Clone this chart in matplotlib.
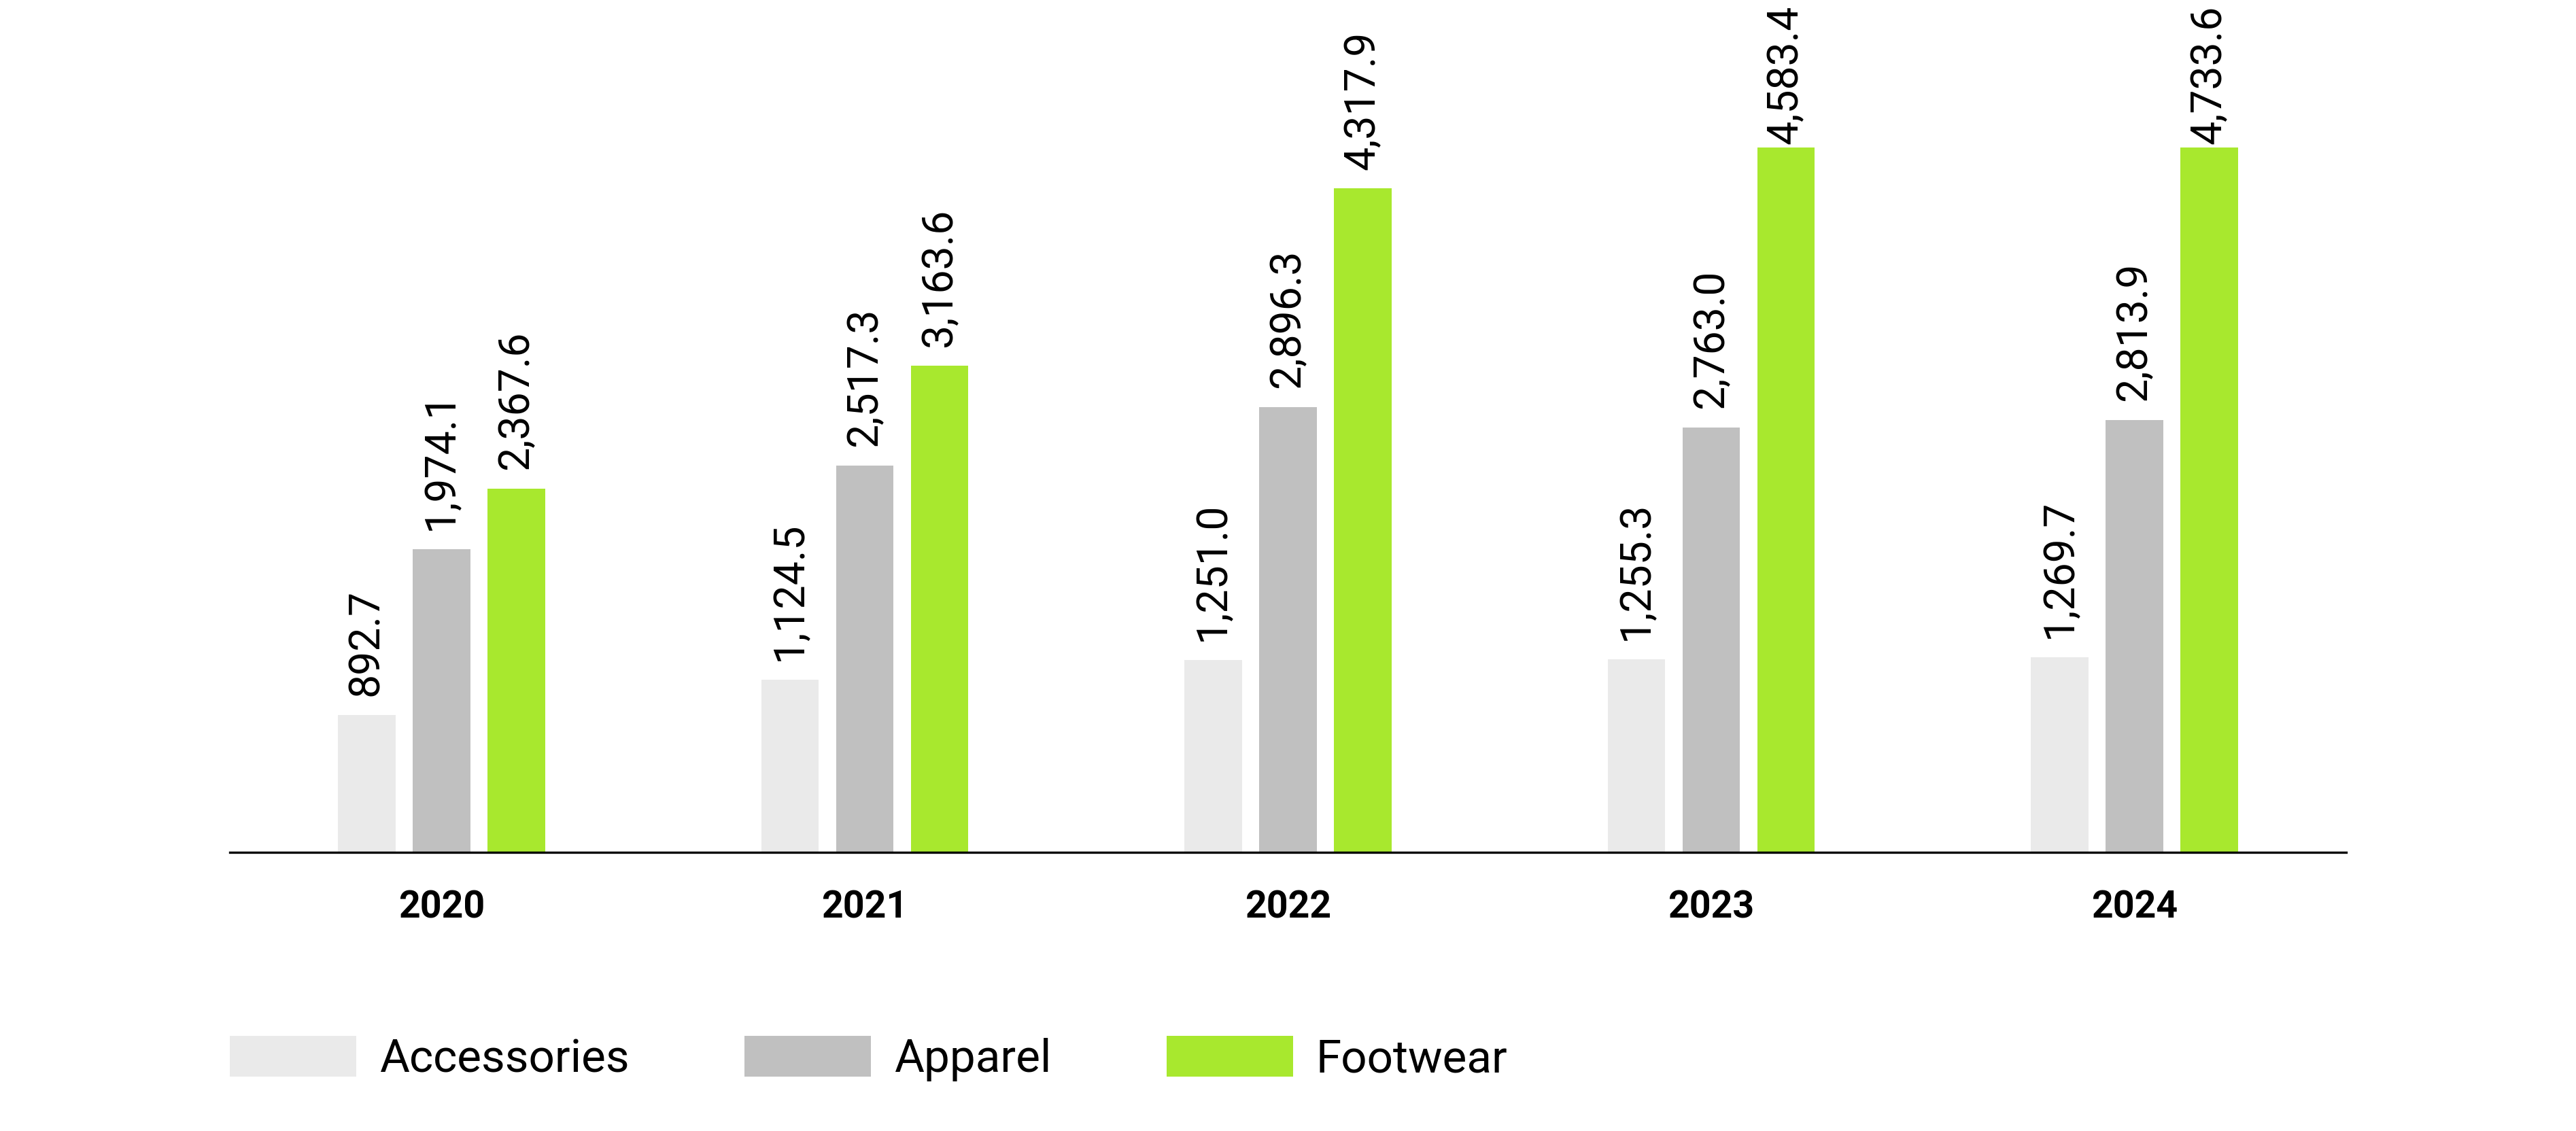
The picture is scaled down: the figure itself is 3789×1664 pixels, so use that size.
import numpy as np
import matplotlib.pyplot as plt

years = ["2020", "2021", "2022", "2023", "2024"]
categories = ["Accessories", "Apparel", "Footwear"]
accessories = [892.7, 1124.5, 1251.0, 1255.3, 1269.7]
apparel = [1974.1, 2517.3, 2896.3, 2763.0, 2813.9]
footwear = [2367.6, 3163.6, 4317.9, 4583.4, 4733.6]
colors = ["#eaeaea", "#c0c0c0", "#a8e82e"]

plt.rcParams['font.family'] = ['Roboto', 'DejaVu Sans']

DPI = 100
fig = plt.figure(figsize=(37.89, 16.64), dpi=DPI)
ax = fig.add_axes([0.0892, 0.2464, 0.8216, 0.6232])

ymax = 4585
x = np.arange(len(years))
width = 0.1357
step = 0.1767
labels = []
for i, (vals, col, name) in enumerate(zip([accessories, apparel, footwear], colors, categories)):
    pos = x + (i - 1) * step
    ax.bar(pos, vals, width, color=col, label=name)
    for px, v in zip(pos, vals):
        t = ax.annotate(f"{v:,.1f}", (px, min(v, ymax)), xytext=(0, 20),
                        textcoords='offset points', rotation=90,
                        ha='center', va='bottom', fontsize=45,
                        annotation_clip=False)
        labels.append(t)

ax.set_xlim(-0.5, 4.5)
ax.set_ylim(0, ymax)
for s in ["top", "left", "right"]:
    ax.spines[s].set_visible(False)
ax.spines["bottom"].set_linewidth(2.4)
ax.set_yticks([])
ax.set_xticks(x)
ax.set_xticklabels(years, fontsize=40, fontweight='bold')
ax.tick_params(axis='x', length=0, pad=40)

fig.legend(ncol=3, loc='center left', bbox_to_anchor=(0.0892, 0.064),
           frameon=False, fontsize=48.5, handlelength=2.76, handleheight=0.99,
           handletextpad=0.5, columnspacing=2.52, borderpad=0, borderaxespad=0)

# keep value labels inside the picture (top ones get pushed down)
fig.canvas.draw()
fig_h = fig.bbox.height
for t in labels:
    bb = t.get_window_extent()
    if bb.y1 > fig_h - 8:
        over = bb.y1 - (fig_h - 8)
        t.xyann = (0, 20 - over * 72 / DPI)

fig.savefig("out.png", dpi=DPI)
